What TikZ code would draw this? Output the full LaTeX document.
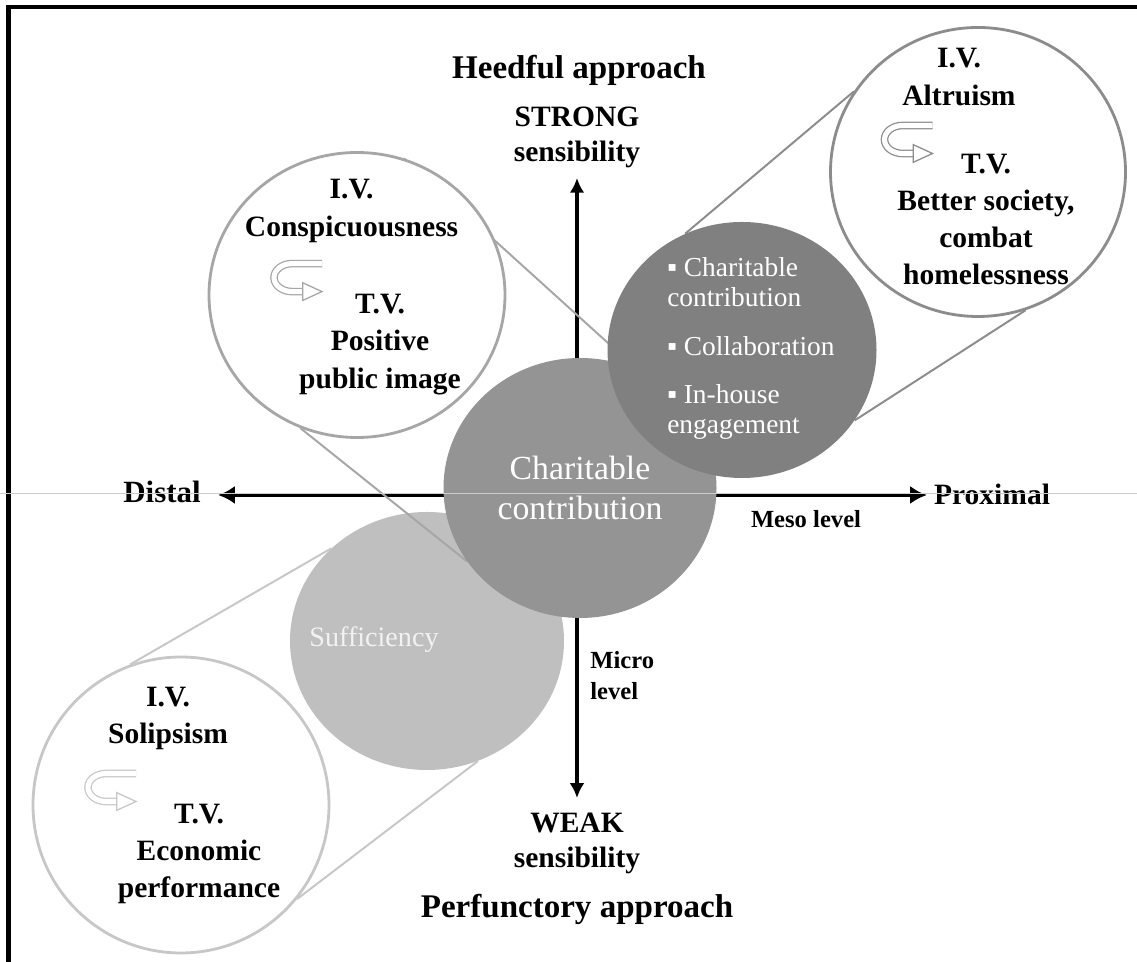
\documentclass[tikz,border=0pt]{standalone}
\usepackage{fontspec}
\setmainfont{Liberation Serif}
\usetikzlibrary{arrows.meta,shapes.geometric,backgrounds}

\tikzset{
  pics/uturn/.style={code={
    \draw[draw=#1, double=white, double distance=3.6pt, line width=0.9pt]
      (0.6,0.45) -- (-0.15,0.45) arc[start angle=90, end angle=270, x radius=0.45, y radius=0.35] -- (0.15,-0.25);
    \draw[draw=#1, fill=white, line width=0.9pt] (0.12,-0.03) -- (0.6,-0.25) -- (0.12,-0.47) -- cycle;
  }}
}

\begin{document}
\begin{tikzpicture}[>={Latex[length=12pt,width=13pt]},
  disc/.style={ellipse, inner sep=0pt, minimum width=6.825cm, minimum height=6.5cm},
  lens/.style={ellipse, draw, fill=white, line width=2pt, inner sep=0pt, minimum width=7.4cm, minimum height=7.2cm},
  ray/.style={line width=1.4pt},
  lbl/.style={inner sep=0pt, align=center, font=\bfseries\fontsize{21}{26.5}\selectfont},
  approach/.style={inner sep=0pt, font=\bfseries\fontsize{23.5}{28}\selectfont},
  lvl/.style={inner sep=0pt, align=left, font=\bfseries\fontsize{17.5}{22}\selectfont}]

\useasboundingbox (0,0) rectangle (28.425,24.05);
\draw[line width=2.9pt] (0.2125,0) -- (0.2125,23.875) -- (28.425,23.875);

% Lenses
\path
(8.925,16.675) node[lens, draw=black!35, minimum height=7.125cm] (zTL) {}
(24.45,19.75)  node[lens, draw=black!45, minimum width=7.375cm, minimum height=7.225cm] (zTR) {}
(4.525,3.925)  node[lens, draw=black!22, minimum height=7.4cm] (zBL) {};

% Circles
\path
(14.5,11.85) node[disc, fill=black!42, text=white, align=center, font=\fontsize{24}{29}\selectfont] (charity) {Charitable\\contribution}
(18.55,15.3) node[disc, fill=black!50, minimum width=6.725cm, minimum height=6.4cm] (forms) {};

% Axes, sufficiency and rays behind
\begin{pgfonlayer}{background}
\coordinate (tTip) at (14.425,19.6);
\coordinate (bTip) at (14.425,4.1);
\coordinate (lTip) at (5.45,11.675);
\coordinate (rTip) at (23.175,11.675);
\draw[line width=3.4pt, {Latex[length=10.5pt,width=10.5pt]}-{Latex[length=10.5pt,width=10.5pt]}] (bTip) -- (tTip);
\draw[line width=2.6pt, <->] (lTip) -- (rTip);
\path (10.675,8.025) node[disc, fill=black!25, minimum width=6.85cm, minimum height=6.45cm] (suff) {};
\draw[ray, black!35] (zTL.71) -- (charity.64) (zTL.247) -- (charity.213);
\draw[ray, black!45] (zTR.147) -- (forms.116) (zTR.289) -- (forms.328);
\draw[ray, black!22] (zBL.110) -- (suff.136) (zBL.321) -- (suff.293);
\end{pgfonlayer}

% Axis labels
\path
(14.475,22.3)    node[approach] (heed) {Heedful approach}
(14.425,20.6125) node[lbl, font=\bfseries\fontsize{21}{25}\selectfont] (strong) {STRONG\\sensibility}
(14.425,2.96)    node[lbl, font=\bfseries\fontsize{21}{25}\selectfont] (weak) {WEAK\\sensibility}
(14.425,1.325)   node[approach] (perf) {Perfunctory approach}
(4.05,11.75)     node[lbl, font=\bfseries\fontsize{22}{26}\selectfont] (distal) {Distal}
(24.8,11.7)      node[lbl] (prox) {Proximal}
(20.15,11.075)   node[lvl] (meso) {Meso level}
(14.75,7.15)     node[lvl, anchor=west] (micro) {Micro\\level};

% Lens texts
\path
(8.79,18.775)  node[lbl] (tlIV) {I.V.\\Conspicuousness}
(9.5,15.4375)  node[lbl] (tlTV) {T.V.\\Positive\\public image}
(23.975,22.125) node[lbl] (trIV) {I.V.\\Altruism}
(24.65,18.5625) node[lbl] (trTV) {T.V.\\Better society,\\combat\\homelessness}
(4.2,6.0875)   node[lbl] (blIV) {I.V.\\Solipsism}
(4.975,2.7)    node[lbl] (blTV) {T.V.\\Economic\\performance};

% Circle texts
\path
(16.675,17.625) node[anchor=north west, inner sep=0pt, align=left, text=white, font=\fontsize{19.5}{21.5}\selectfont] (items) {▪ Charitable\\contribution\\[13pt]▪ Collaboration\\[13pt]▪ In-house\\engagement}
(9.35,8.05) node[inner sep=0pt, text=white!95!black, font=\fontsize{20}{24}\selectfont] (sufftxt) {Sufficiency};

\pic at (7.45,17.01) {uturn=black!35};
\pic at (22.7125,20.4625) {uturn=black!45};
\pic at (2.8,4.2625) {uturn=black!22};

\draw[white!80!black, line width=0.4pt] (0,11.7125) -- (28.425,11.7125);

\end{tikzpicture}
\end{document}
